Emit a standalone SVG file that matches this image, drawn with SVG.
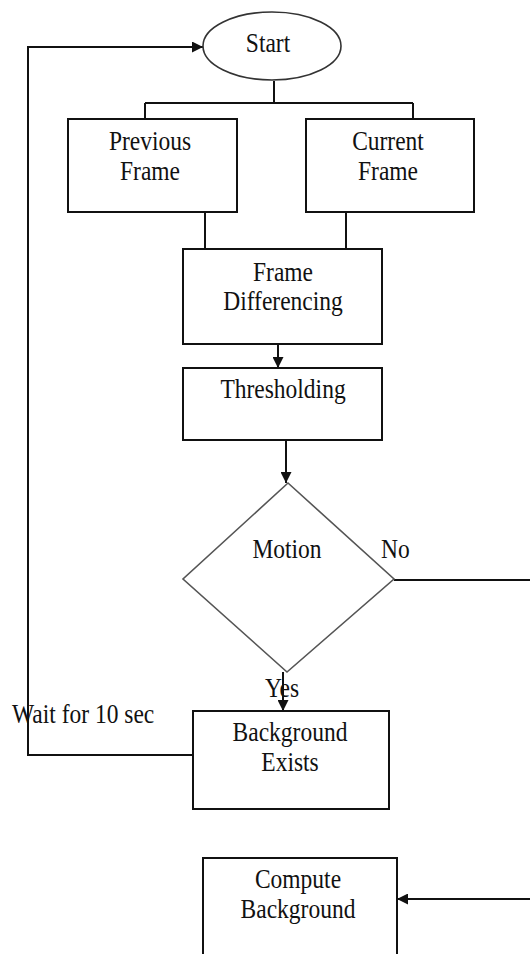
<svg xmlns="http://www.w3.org/2000/svg" width="530" height="954" viewBox="0 0 530 954">
<defs>
<style>
.box{fill:#fff;stroke:#111;stroke-width:2}
.dia{fill:#fff;stroke:#555;stroke-width:1.6}
.ln{fill:none;stroke:#111;stroke-width:2}
text{font-family:"Liberation Serif","Times New Roman",serif;font-size:23.5px;fill:#111;text-anchor:middle}
.l{text-anchor:start}
</style>
<marker id="ah" viewBox="0 0 10 10" refX="10" refY="5" markerWidth="11" markerHeight="11" markerUnits="userSpaceOnUse" orient="auto">
<path d="M0,0 L10,5 L0,10 z" fill="#111"/>
</marker>
</defs>
<rect width="530" height="954" fill="#fff"/>
<g id="connectors">
<path class="ln" d="M274,81 V103 M145,103 H413 M145,103 V119 M413,103 V119"/>
<path class="ln" d="M205,212 V249 M346,212 V249"/>
<path class="ln" d="M278,344 V368" marker-end="url(#ah)"/>
<path class="ln" d="M286,440 V483" marker-end="url(#ah)"/>
<path class="ln" d="M283,672 V711" marker-end="url(#ah)"/>
<path class="ln" d="M193,755 H28 V47 H203" marker-end="url(#ah)"/>
<path class="ln" d="M394,580 H532 V899 H397" marker-end="url(#ah)"/>
</g>
<g id="start">
<ellipse cx="272" cy="46" rx="69" ry="34" fill="#fff" stroke="#333" stroke-width="1.6"/>
<text transform="translate(268,52) scale(1,1.15)">Start</text>
</g>
<g id="previous">
<rect class="box" x="68" y="119" width="169" height="93"/>
<text transform="translate(150,150) scale(1,1.15)">Previous</text>
<text transform="translate(150,180) scale(1,1.15)">Frame</text>
</g>
<g id="current">
<rect class="box" x="306" y="119" width="168" height="93"/>
<text transform="translate(388,150) scale(1,1.15)">Current</text>
<text transform="translate(388,180) scale(1,1.15)">Frame</text>
</g>
<g id="diff">
<rect class="box" x="183" y="249" width="199" height="95"/>
<text transform="translate(283,281) scale(1,1.15)">Frame</text>
<text transform="translate(283,310) scale(1,1.15)">Differencing</text>
</g>
<g id="threshold">
<rect class="box" x="183" y="368" width="199" height="72"/>
<text transform="translate(283,398) scale(1,1.15)">Thresholding</text>
</g>
<g id="motion">
<polygon class="dia" points="288,483 394,579 287,672 183,579"/>
<text transform="translate(287,558) scale(1,1.15)">Motion</text>
</g>
<g id="labels">
<text class="l" transform="translate(381,558) scale(1,1.15)">No</text>
<text class="l" transform="translate(265,697) scale(1,1.15)">Yes</text>
<text class="l" transform="translate(12,723) scale(1,1.15)">Wait for 10 sec</text>
</g>
<g id="bgexists">
<rect class="box" x="193" y="711" width="196" height="98"/>
<text transform="translate(290,741) scale(1,1.15)">Background</text>
<text transform="translate(290,771) scale(1,1.15)">Exists</text>
</g>
<g id="compute">
<rect class="box" x="203" y="858" width="194" height="110"/>
<text transform="translate(298,888) scale(1,1.15)">Compute</text>
<text transform="translate(298,918) scale(1,1.15)">Background</text>
</g>
</svg>
